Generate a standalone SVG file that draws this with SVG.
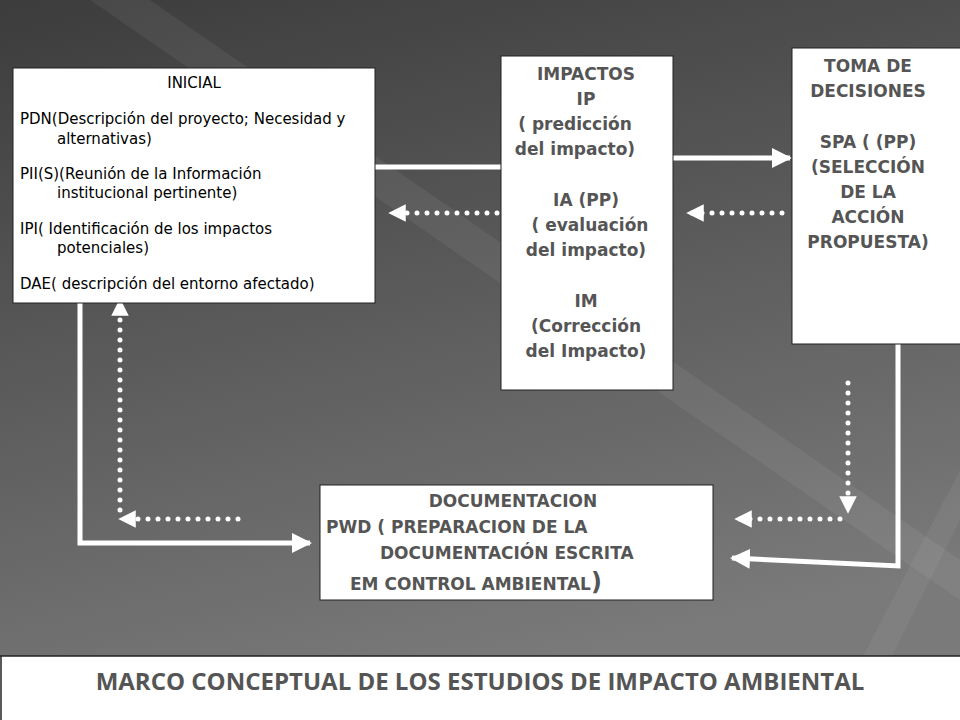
<svg xmlns="http://www.w3.org/2000/svg" width="960" height="720" viewBox="0 0 960 720">
<defs>
<linearGradient id="bg" x1="0" y1="0" x2="0.3" y2="1"><stop offset="0" stop-color="#3c3c3c"/><stop offset="1" stop-color="#7a7a7a"/></linearGradient>
<marker id="ah" viewBox="0 0 10 10" refX="9" refY="5" markerWidth="4" markerHeight="4" orient="auto" markerUnits="strokeWidth"><path d="M0,0L10,5L0,10z" fill="#fff"/></marker>
<marker id="ad" viewBox="0 0 10 10" refX="9" refY="5" markerWidth="3.5" markerHeight="3.5" orient="auto" markerUnits="strokeWidth"><path d="M0,0L10,5L0,10z" fill="#fff"/></marker>
<style>
.box{fill:#fff;stroke:#222;stroke-width:1}
.s{stroke:#fff;stroke-width:5;fill:none}
.d{stroke:#fff;stroke-width:5;fill:none;stroke-dasharray:0 10;stroke-linecap:round}
.t1{font-family:Verdana,"DejaVu Sans",sans-serif;font-size:15px;fill:#000}
.b{font-family:"DejaVu Sans",Verdana,sans-serif;font-weight:bold;font-size:17px;fill:#555;text-anchor:middle}
.bd{font-family:"DejaVu Sans",sans-serif;font-weight:bold;font-size:17px;fill:#555}
</style>
</defs>
<rect width="960" height="720" fill="url(#bg)"/>
<path d="M150,0 L960,560 L960,600 L90,0z" fill="#fff" opacity="0.06"/>
<path d="M960,470 L830,720 L860,720 L960,520z" fill="#fff" opacity="0.05"/>
<g id="connectors">
<line class="s" x1="375" y1="167" x2="505" y2="167"/>
<line class="s" x1="673" y1="158" x2="790" y2="158" marker-end="url(#ah)"/>
<line class="d" x1="782" y1="213" x2="688" y2="213" marker-end="url(#ad)"/>
<line class="d" x1="497" y1="213" x2="390" y2="213" marker-end="url(#ad)"/>
<polyline class="s" points="80,303 80,543 310,543" marker-end="url(#ah)"/>
<line class="d" x1="120" y1="510" x2="120" y2="300" marker-end="url(#ad)"/>
<line class="d" x1="238" y1="519" x2="120" y2="519" marker-end="url(#ad)"/>
<line class="d" x1="848" y1="383" x2="848" y2="512" marker-end="url(#ad)"/>
<line class="d" x1="840" y1="519" x2="736" y2="519" marker-end="url(#ad)"/>
<polyline class="s" points="898,344 898,566 732,558" marker-end="url(#ah)"/>
</g>
<g id="inicial">
<rect class="box" x="13" y="68" width="362" height="235"/>
<text class="t1" x="194" y="88" text-anchor="middle">INICIAL</text>
<text class="t1" x="20" y="124">PDN(Descripción del proyecto; Necesidad y</text>
<text class="t1" x="57" y="144">alternativas)</text>
<text class="t1" x="20" y="179">PII(S)(Reunión de la Información</text>
<text class="t1" x="57" y="198">institucional pertinente)</text>
<text class="t1" x="20" y="234">IPI( Identificación de los impactos</text>
<text class="t1" x="57" y="253">potenciales)</text>
<text class="t1" x="20" y="289">DAE( descripción del entorno afectado)</text>
</g>
<g id="impactos">
<rect class="box" x="501" y="56" width="172" height="334"/>
<text class="b" x="586" y="80">IMPACTOS</text>
<text class="b" x="586" y="105">IP</text>
<text class="b" x="575" y="130">( predicción</text>
<text class="b" x="575" y="155">del impacto)</text>
<text class="b" x="586" y="206">IA (PP)</text>
<text class="b" x="590" y="231">( evaluación</text>
<text class="b" x="586" y="256">del impacto)</text>
<text class="b" x="586" y="307">IM</text>
<text class="b" x="586" y="332">(Corrección</text>
<text class="b" x="586" y="357">del Impacto)</text>
</g>
<g id="toma">
<rect class="box" x="792" y="48" width="175" height="296"/>
<text class="b" x="868" y="72">TOMA DE</text>
<text class="b" x="868" y="97">DECISIONES</text>
<text class="b" x="868" y="148">SPA ( (PP)</text>
<text class="b" x="868" y="173">(SELECCIÓN</text>
<text class="b" x="868" y="198">DE LA</text>
<text class="b" x="868" y="223">ACCIÓN</text>
<text class="b" x="868" y="248">PROPUESTA)</text>
</g>
<g id="documentacion">
<rect class="box" x="320" y="485" width="393" height="115"/>
<text class="b" x="513" y="507">DOCUMENTACION</text>
<text class="bd" x="326" y="533">PWD ( PREPARACION  DE LA</text>
<text class="bd" x="380" y="559">DOCUMENTACIÓN  ESCRITA</text>
<text class="bd" x="350" y="590">EM   CONTROL AMBIENTAL<tspan font-size="24">)</tspan></text>
</g>
<g id="title">
<rect x="0" y="656" width="960" height="64" fill="#fff"/>
<line x1="0" y1="656" x2="960" y2="656" stroke="#222" stroke-width="1.5"/>
<line x1="1" y1="656" x2="1" y2="720" stroke="#222" stroke-width="1.5"/>
<text x="480" y="690" text-anchor="middle" font-family="'Open Sans','DejaVu Sans',sans-serif" font-weight="bold" font-size="24" fill="#555">MARCO CONCEPTUAL DE LOS ESTUDIOS DE IMPACTO AMBIENTAL</text>
</g>
</svg>
